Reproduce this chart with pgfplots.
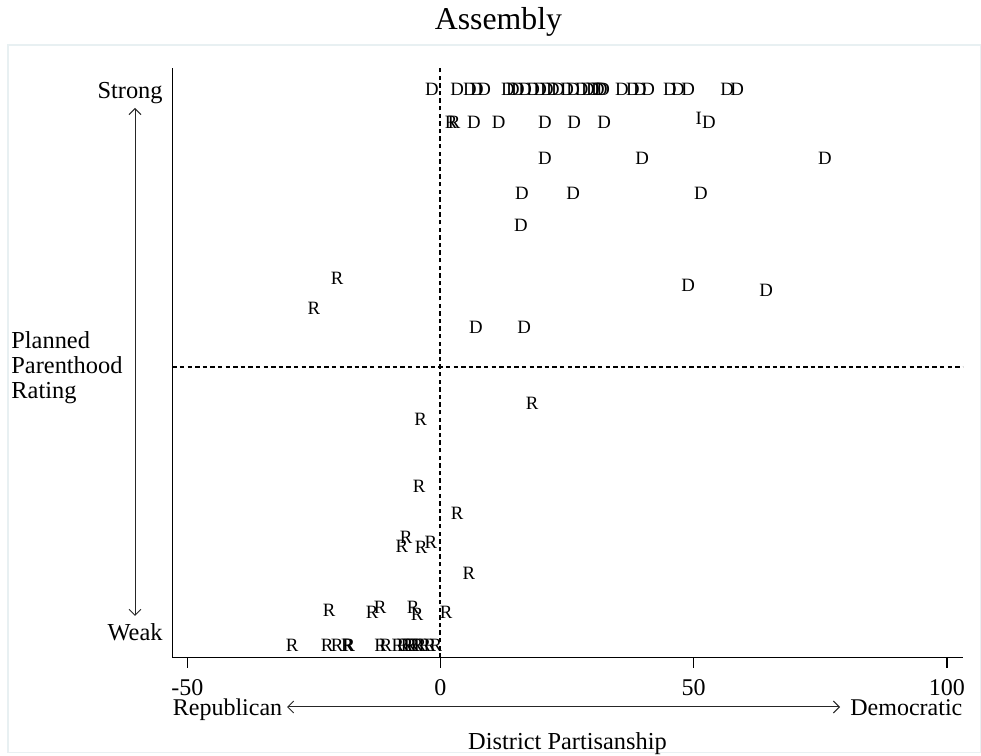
\documentclass[border=0pt]{standalone}
\usepackage{fontspec}
\setmainfont{Liberation Serif}
\usepackage{pgfplots}
\usepackage{pgfplotstable}
\pgfplotsset{compat=1.18}
\usetikzlibrary{arrows.meta}
\definecolor{framecol}{RGB}{232,240,242}

\pgfplotstableread{
x y
-1.7 100
3.3 100
5.8 100
7.2 100
8.6 100
13.3 100
14.3 100
15.3 100
16.7 100
18.3 100
19.7 100
21.0 100
22.2 100
23.2 100
25.0 100
26.2 100
27.9 100
29.1 100
30.1 100
31.1 100
31.7 100
32.1 100
35.8 100
38.0 100
39.4 100
41.0 100
45.3 100
46.9 100
48.9 100
56.6 100
58.6 100
6.6 94
11.5 94
20.6 94
26.4 94
32.3 94
53.0 94
20.6 87.6
39.8 87.6
75.9 87.6
16.1 81.3
26.2 81.3
51.4 81.3
15.9 75.5
48.9 64.6
64.3 63.7
7.0 57.2
16.5 57.2
}\Ddata

\pgfplotstableread{
x y
2.1 94
2.7 94
-20.4 66.0
-25.0 60.6
18.1 43.5
-3.9 40.5
-4.2 28.6
3.3 23.7
-6.8 19.4
-7.6 17.8
-3.8 17.6
-1.9 18.5
5.6 12.9
-22.0 6.3
-13.5 5.8
-11.9 6.7
-5.4 6.7
-4.6 5.6
1.1 5.9
-29.3 0
-22.4 0
-20.4 0
-18.4 0
-18.1 0
-11.8 0
-10.8 0
-8.4 0
-7.4 0
-6.6 0
-6.0 0
-5.4 0
-4.6 0
-4.0 0
-3.1 0
-2.1 0
-0.9 0
}\Rdata

\pgfplotstableread{
x y
51.0 94.8
}\Idata

\begin{document}
\begin{tikzpicture}
\useasboundingbox (0,0) rectangle (490.5bp,378bp);
\draw[framecol, line width=0.8bp] (4bp,1.75bp) rectangle (490.25bp,355.5bp);
\begin{axis}[
  at={(86.15bp,49.15bp)}, anchor=south west,
  scale only axis, width=395.2bp, height=294.85bp,
  xmin=-52.96, xmax=103.12, ymin=-2.28, ymax=103.78,
  axis x line=bottom, axis y line=left,
  axis line style={-, line width=0.75bp, black},
  xtick={-50,0,50,100}, xticklabels={-50,0,50,100},
  ytick=\empty,
  tick align=outside, major tick length=5bp,
  tick style={black, line width=0.6bp},
  xticklabel style={font=\fontsize{12bp}{14bp}\selectfont, anchor=north, inner sep=0pt, yshift=-5.5bp},
  clip=false,
  text mark as node=true,
]
\addplot[black, dashed, dash pattern=on 2.2bp off 1.6bp, line width=1bp] coordinates {(0,-2.28) (0,103.78)};
\addplot[black, dashed, dash pattern=on 2.2bp off 1.6bp, line width=1bp] coordinates {(-52.96,50) (103.12,50)};
\addplot[only marks, mark=text, text mark={D}, text mark style={font=\fontsize{9.4bp}{10bp}\selectfont, inner sep=0pt, anchor=center, black}] table[x=x,y=y] {\Ddata};
\addplot[only marks, mark=text, text mark={R}, text mark style={font=\fontsize{9.4bp}{10bp}\selectfont, inner sep=0pt, anchor=center, black}] table[x=x,y=y] {\Rdata};
\addplot[only marks, mark=text, text mark={I}, text mark style={font=\fontsize{9.4bp}{10bp}\selectfont, inner sep=0pt, anchor=center, black}] table[x=x,y=y] {\Idata};
\end{axis}
\node[anchor=base, inner sep=0pt, font=\fontsize{15.9bp}{18bp}\selectfont] at (249.25bp,363bp) {Assembly};
\node[anchor=base east, inner sep=0pt, font=\fontsize{12.2bp}{14bp}\selectfont] at (81.5bp,328.5bp) {Strong};
\node[anchor=base east, inner sep=0pt, font=\fontsize{12.2bp}{14bp}\selectfont] at (81.5bp,57.5bp) {Weak};
\node[anchor=base west, inner sep=0pt, font=\fontsize{12.2bp}{14bp}\selectfont] at (5.5bp,203.5bp) {Planned};
\node[anchor=base west, inner sep=0pt, font=\fontsize{12.2bp}{14bp}\selectfont] at (5.5bp,191bp) {Parenthood};
\node[anchor=base west, inner sep=0pt, font=\fontsize{12.2bp}{14bp}\selectfont] at (5.5bp,178.5bp) {Rating};
\draw[black!85, line width=0.5bp, {Straight Barb[length=3bp,width=6bp]}-{Straight Barb[length=3bp,width=6bp]}] (67.5bp,324bp) -- (67.5bp,70bp);
\draw[black!85, line width=0.5bp, {Straight Barb[length=3bp,width=6bp]}-{Straight Barb[length=3bp,width=6bp]}] (143.5bp,24.5bp) -- (420bp,24.5bp);
\node[anchor=base west, inner sep=0pt, font=\fontsize{12bp}{14bp}\selectfont] at (86.25bp,20.5bp) {Republican};
\node[anchor=base east, inner sep=0pt, font=\fontsize{12bp}{14bp}\selectfont] at (481.35bp,20.5bp) {Democratic};
\node[anchor=base, inner sep=0pt, font=\fontsize{12.2bp}{14bp}\selectfont] at (283.75bp,3.5bp) {District Partisanship};
\end{tikzpicture}
\end{document}
